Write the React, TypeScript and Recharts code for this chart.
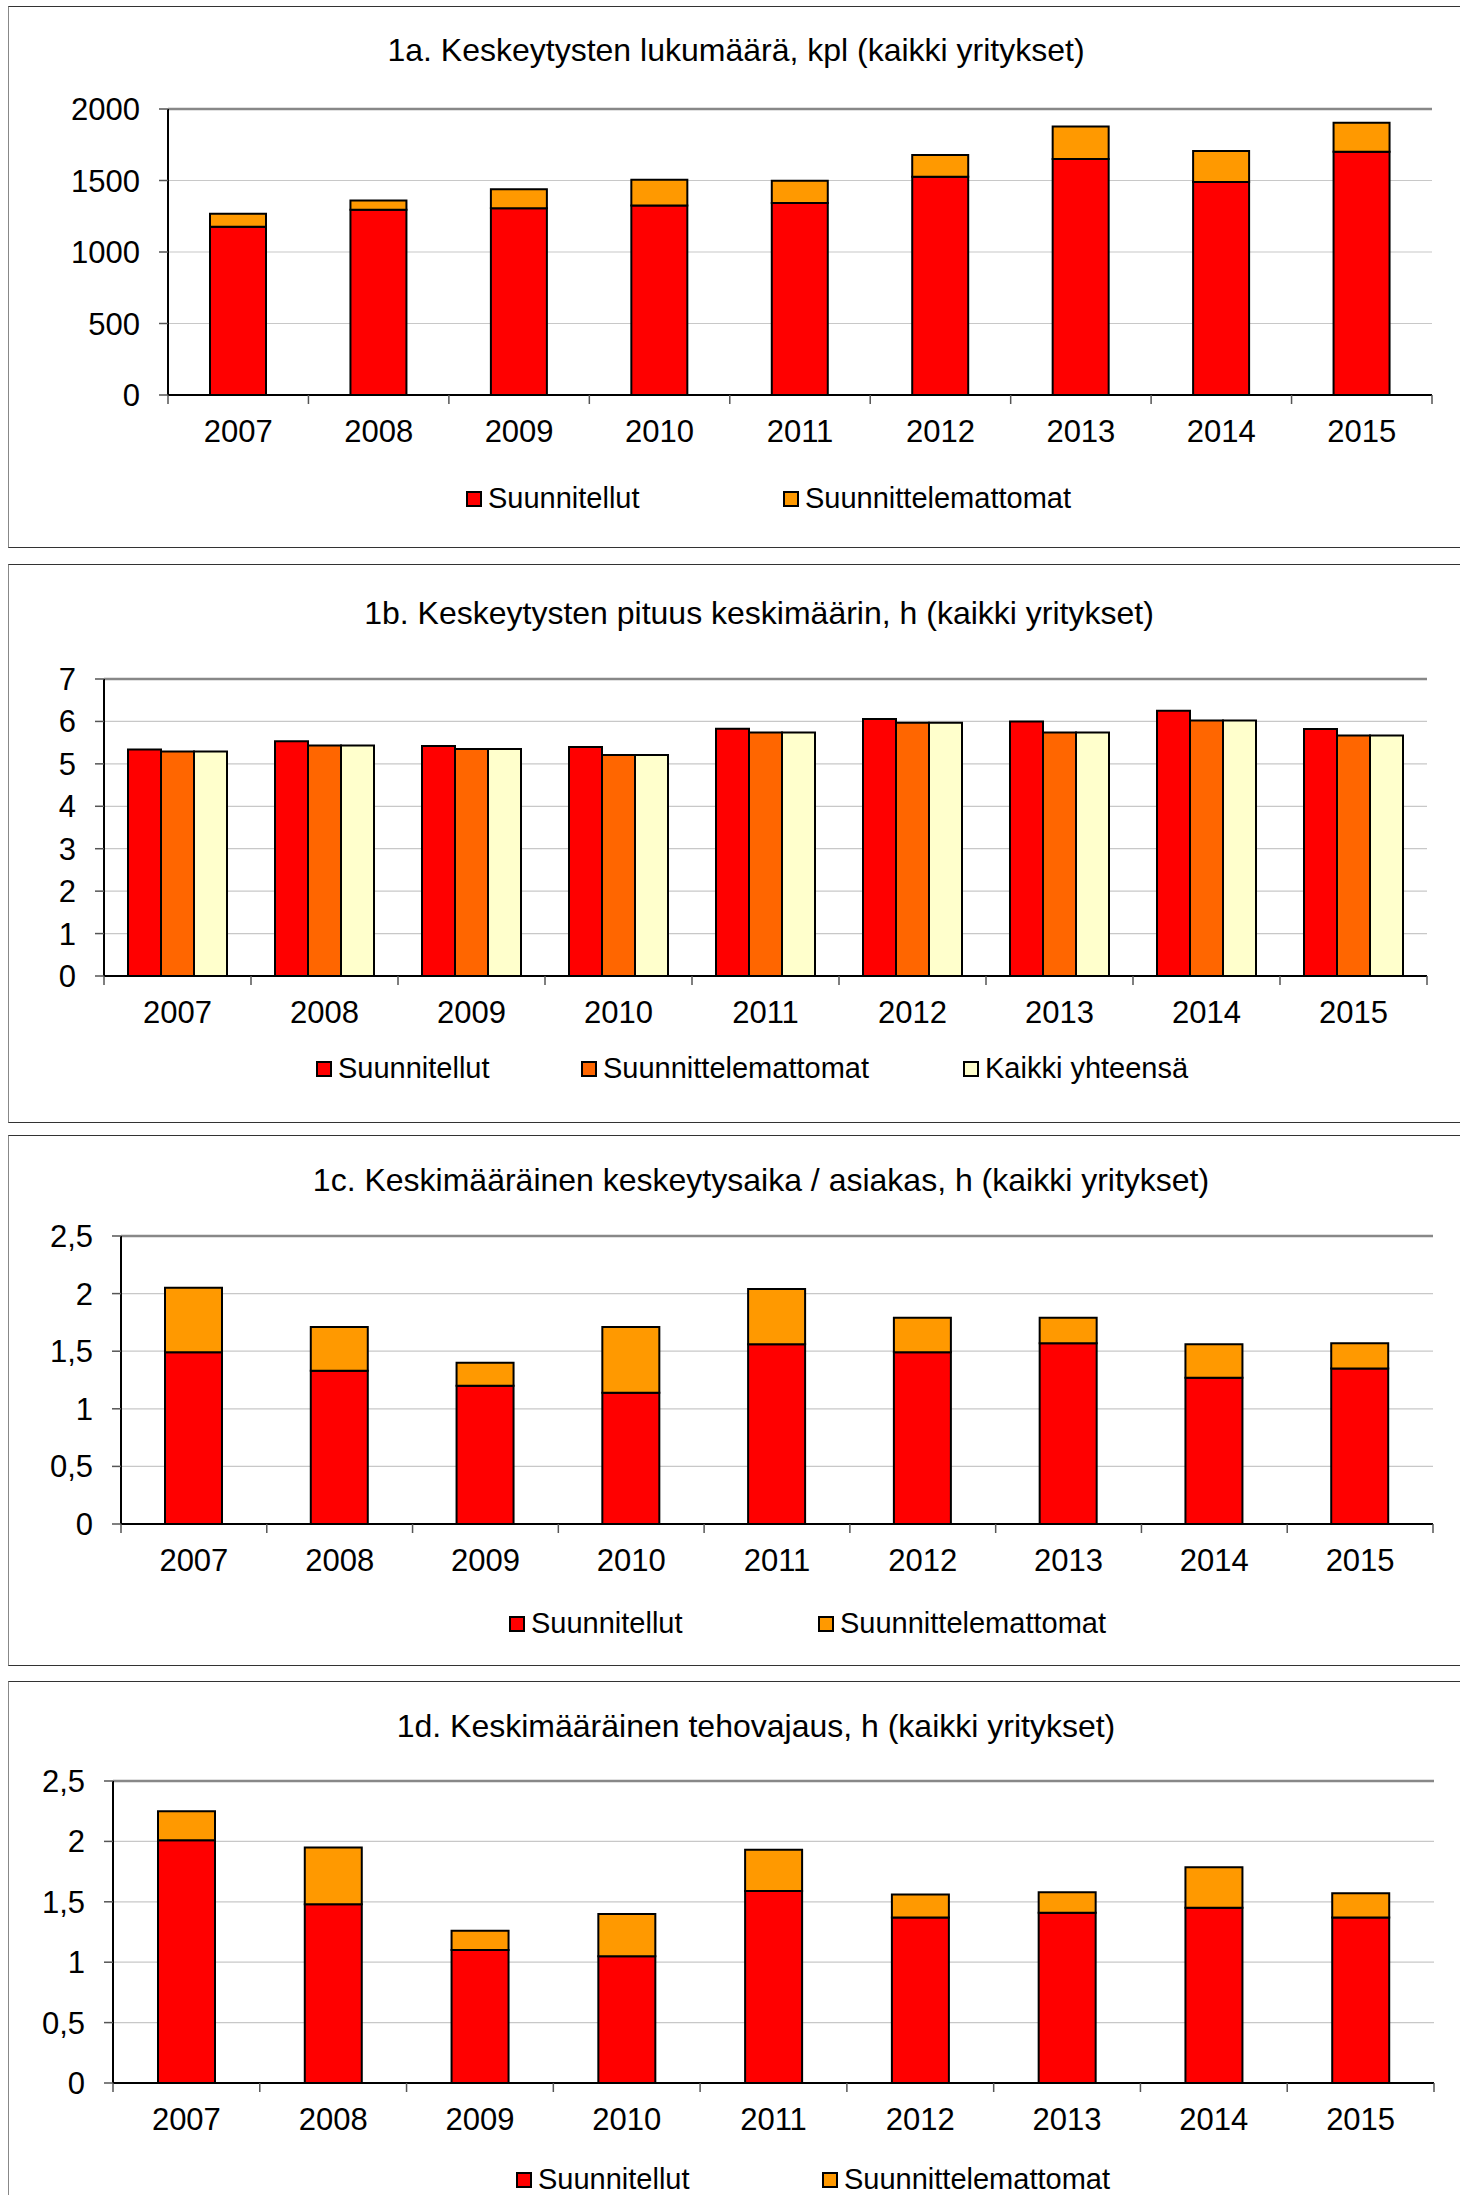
import React from "react";
import { BarChart, Bar, XAxis, YAxis, CartesianGrid, ReferenceLine } from "recharts";

const FONT = "'Liberation Sans', Arial, sans-serif";

const years = ["2007", "2008", "2009", "2010", "2011", "2012", "2013", "2014", "2015"];

// 1a. lukumäärä, kpl
const countPlanned = [1177, 1296, 1306, 1326, 1343, 1526, 1650, 1490, 1701];
const countUnplanned = [91, 65, 132, 180, 155, 152, 227, 216, 203];

// 1b. pituus keskimäärin, h
const lengthPlanned = [5.34, 5.53, 5.42, 5.4, 5.83, 6.06, 6.0, 6.25, 5.82];
const lengthUnplanned = [5.29, 5.43, 5.35, 5.21, 5.74, 5.97, 5.74, 6.02, 5.67];
const lengthTotal = [5.29, 5.43, 5.35, 5.21, 5.74, 5.97, 5.74, 6.02, 5.67];

// 1c. keskeytysaika / asiakas, h
const customerPlanned = [1.49, 1.33, 1.2, 1.14, 1.56, 1.49, 1.57, 1.27, 1.35];
const customerUnplanned = [0.56, 0.38, 0.2, 0.57, 0.48, 0.3, 0.22, 0.29, 0.22];

// 1d. tehovajaus, h
const powerPlanned = [2.01, 1.48, 1.1, 1.05, 1.59, 1.37, 1.41, 1.45, 1.37];
const powerUnplanned = [0.24, 0.47, 0.16, 0.35, 0.34, 0.19, 0.17, 0.335, 0.2];

const ticksCount = [0, 500, 1000, 1500, 2000];
const ticksLength = [0, 1, 2, 3, 4, 5, 6, 7];
const ticksHours = [0, 0.5, 1, 1.5, 2, 2.5];

const RED = "#FF0000";
const AMBER = "#FF9900";
const ORANGE = "#FF6600";
const CREAM = "#FFFFCC";

const TITLE_FS = 32;
const TICK_FS = 31;
const LEGEND_FS = 29;

type Series = { key: string; name: string; color: string; values: number[] };

type Layout = {
  top: number;
  boxH: number;
  chartH: number;
  left: number;
  right: number;
  plotTop: number;
  plotBottom: number;
  titleX: number;
  titleY: number;
  legendY: number;
  legendX: number[];
};

const fmt = (v: number) => String(v).replace(".", ",");

function Panel({
  title,
  series,
  stacked,
  barSize,
  ticks,
  layout,
}: {
  title: string;
  series: Series[];
  stacked: boolean;
  barSize: number;
  ticks: number[];
  layout: Layout;
}) {
  const W = 1460;
  const rows = years.map((year, i) => {
    const r: Record<string, string | number> = { year };
    series.forEach((s) => (r[s.key] = s.values[i]));
    return r;
  });
  const yMax = ticks[ticks.length - 1];
  const band = (layout.right - layout.left) / years.length;
  const axisH = 60;
  const margin = {
    top: layout.plotTop - layout.top,
    right: W - layout.right,
    left: 0,
    bottom: layout.chartH - (layout.plotBottom - layout.top) - axisH,
  };

  const yearTick = (p: any) => {
    const { x, y, payload, index } = p;
    return (
      <g>
        <line x1={x - band / 2} x2={x - band / 2} y1={y} y2={y + 9} stroke="#555" strokeWidth={1.5} />
        {index === years.length - 1 && (
          <line x1={x + band / 2} x2={x + band / 2} y1={y} y2={y + 9} stroke="#555" strokeWidth={1.5} />
        )}
        <text x={x} y={y + 47} textAnchor="middle" fontSize={TICK_FS} fill="#000">
          {payload.value}
        </text>
      </g>
    );
  };

  return (
    <>
      <div
        style={{
          position: "absolute",
          left: 8,
          top: layout.top,
          width: 1500,
          height: layout.boxH,
          boxSizing: "border-box",
          borderTop: "1.5px solid #333",
          borderBottom: "1.5px solid #333",
          borderLeft: "1.5px solid #888",
        }}
      />
      <div
        style={{
          position: "absolute",
          left: layout.titleX - 600,
          width: 1200,
          top: layout.titleY - 16,
          textAlign: "center",
          fontSize: TITLE_FS,
          lineHeight: `${TITLE_FS}px`,
          color: "#000",
          whiteSpace: "nowrap",
        }}
      >
        {title}
      </div>
      <div style={{ position: "absolute", left: 0, top: layout.top }}>
        <BarChart
          width={W}
          height={layout.chartH}
          data={rows}
          margin={margin}
          barGap={0}
          style={{ fontFamily: FONT }}
        >
          <CartesianGrid vertical={false} stroke="#c8c8c8" strokeWidth={1.2} />
          <XAxis
            dataKey="year"
            height={axisH}
            interval={0}
            tickSize={0}
            tickMargin={0}
            tick={yearTick}
            axisLine={{ stroke: "#000", strokeWidth: 2 }}
            tickLine={false}
          />
          <YAxis
            width={layout.left}
            domain={[0, yMax]}
            ticks={ticks}
            interval={0}
            tickFormatter={fmt}
            tickSize={9}
            tickMargin={19}
            tick={{ fontSize: TICK_FS, fill: "#000" }}
            tickLine={{ stroke: "#555", strokeWidth: 1.5 }}
            axisLine={{ stroke: "#000", strokeWidth: 2 }}
          />
          <YAxis
            yAxisId="edge"
            orientation="right"
            width={0}
            domain={[0, yMax]}
            tick={false}
            tickLine={false}
            axisLine={{ stroke: "#888", strokeWidth: 2 }}
          />
          <ReferenceLine y={yMax} stroke="#888" strokeWidth={2.5} />
          {series.map((s) => (
            <Bar
              key={s.key}
              dataKey={s.key}
              name={s.name}
              stackId={stacked ? "s" : undefined}
              fill={s.color}
              stroke="#000"
              strokeWidth={2}
              barSize={barSize}
              isAnimationActive={false}
            />
          ))}
        </BarChart>
      </div>
      {series.map((s, i) => (
        <div
          key={s.key}
          style={{
            position: "absolute",
            left: layout.legendX[i],
            top: layout.legendY - 15,
            display: "flex",
            alignItems: "center",
            fontSize: LEGEND_FS,
            lineHeight: `${LEGEND_FS}px`,
            whiteSpace: "nowrap",
          }}
        >
          <span
            style={{
              display: "inline-block",
              width: 16,
              height: 16,
              boxSizing: "border-box",
              border: "2px solid #000",
              background: s.color,
              marginRight: 6,
            }}
          />
          <span>{s.name}</span>
        </div>
      ))}
    </>
  );
}

export default function App() {
  return (
    <div
      style={{
        position: "fixed",
        left: 0,
        top: 0,
        width: 1460,
        height: 2195,
        overflow: "hidden",
        background: "#fff",
        fontFamily: FONT,
      }}
    >
      <Panel
        title="1a. Keskeytysten lukumäärä, kpl (kaikki yritykset)"
        stacked
        barSize={56}
        ticks={ticksCount}
        series={[
          { key: "planned", name: "Suunnitellut", color: RED, values: countPlanned },
          { key: "unplanned", name: "Suunnittelemattomat", color: AMBER, values: countUnplanned },
        ]}
        layout={{
          top: 6, boxH: 542, chartH: 542, left: 168, right: 1432, plotTop: 109, plotBottom: 395,
          titleX: 736, titleY: 50, legendY: 499, legendX: [466, 783],
        }}
      />
      <Panel
        title="1b. Keskeytysten pituus keskimäärin, h (kaikki yritykset)"
        stacked={false}
        barSize={33}
        ticks={ticksLength}
        series={[
          { key: "planned", name: "Suunnitellut", color: RED, values: lengthPlanned },
          { key: "unplanned", name: "Suunnittelemattomat", color: ORANGE, values: lengthUnplanned },
          { key: "total", name: "Kaikki yhteensä", color: CREAM, values: lengthTotal },
        ]}
        layout={{
          top: 564, boxH: 559, chartH: 559, left: 104, right: 1427, plotTop: 679, plotBottom: 976,
          titleX: 759, titleY: 613, legendY: 1069, legendX: [316, 581, 963],
        }}
      />
      <Panel
        title="1c. Keskimääräinen keskeytysaika / asiakas, h (kaikki yritykset)"
        stacked
        barSize={57}
        ticks={ticksHours}
        series={[
          { key: "planned", name: "Suunnitellut", color: RED, values: customerPlanned },
          { key: "unplanned", name: "Suunnittelemattomat", color: AMBER, values: customerUnplanned },
        ]}
        layout={{
          top: 1135, boxH: 531, chartH: 531, left: 121, right: 1433, plotTop: 1236, plotBottom: 1524,
          titleX: 761, titleY: 1180, legendY: 1624, legendX: [509, 818],
        }}
      />
      <Panel
        title="1d. Keskimääräinen tehovajaus, h (kaikki yritykset)"
        stacked
        barSize={57}
        ticks={ticksHours}
        series={[
          { key: "planned", name: "Suunnitellut", color: RED, values: powerPlanned },
          { key: "unplanned", name: "Suunnittelemattomat", color: AMBER, values: powerUnplanned },
        ]}
        layout={{
          top: 1681, boxH: 620, chartH: 514, left: 113, right: 1434, plotTop: 1781, plotBottom: 2083,
          titleX: 756, titleY: 1726, legendY: 2180, legendX: [516, 822],
        }}
      />
    </div>
  );
}
